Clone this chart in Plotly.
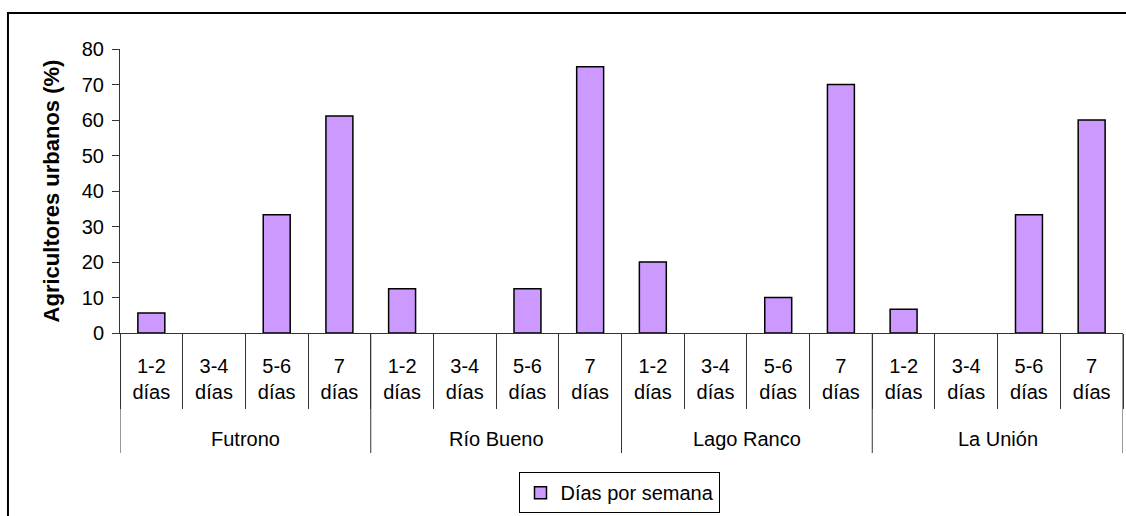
import plotly.graph_objects as go

towns = ["Futrono", "Río Bueno", "Lago Ranco", "La Unión"]
day_labels = ["1-2<br>días", "3-4<br>días", "5-6<br>días", "7<br>días"]

futrono = [5.6, 0, 33.3, 61.1]
rio_bueno = [12.5, 0, 12.5, 75.0]
lago_ranco = [20.0, 0, 10.0, 70.0]
la_union = [6.7, 0, 33.3, 60.0]

series = [futrono, rio_bueno, lago_ranco, la_union]

# flatten the two-level categories onto one numeric axis
y_vals = [v for s in series for v in s]
y_plot = [v if v else None for v in y_vals]  # empty slot instead of a flat bar
x_pos = list(range(len(y_vals)))
tick_text = day_labels * len(towns)
n_sub = len(day_labels)
bounds = [i - 0.5 for i in range(len(y_vals) + 1)]
group_bounds = [g * n_sub - 0.5 for g in range(len(towns) + 1)]
group_centers = [g * n_sub + (n_sub - 1) / 2 for g in range(len(towns))]

font = "Arial, Liberation Sans, sans-serif"
axis_col = "#333333"

fig = go.Figure()
fig.add_trace(go.Bar(
    x=x_pos, y=y_plot, width=0.43, name="Días por semana",
    marker=dict(color="#CC99FF", line=dict(color="black", width=1.5)),
))

for xc, town in zip(group_centers, towns):
    fig.add_annotation(x=xc, y=0, xref="x", yref="paper", text=town,
                       showarrow=False, yanchor="middle", yshift=-106,
                       font=dict(family=font, size=20, color="black"))

for xb in group_bounds:
    fig.add_shape(type="line", xref="x", yref="paper", x0=xb, x1=xb,
                  y0=0, y1=-120 / 284, line=dict(color=axis_col, width=1))

# outer chart frame
fig.add_shape(type="rect", xref="paper", yref="paper",
              x0=-0.1117, x1=1.05, y0=-1.0, y1=1.127,
              line=dict(color="black", width=2))

fig.update_layout(
    width=1126, height=516,
    margin=dict(l=120, r=3, t=49, b=183),
    paper_bgcolor="white", plot_bgcolor="white",
    font=dict(family=font, size=20, color="black"),
    showlegend=True,
    legend=dict(orientation="h", x=0.4985, xanchor="center",
                y=-0.49, yanchor="top", bordercolor="black", borderwidth=1,
                font=dict(size=20)),
    xaxis=dict(
        range=[-0.5, len(y_vals) - 0.5], automargin=False,
        tickmode="array", tickvals=x_pos, ticktext=tick_text,
        ticks="", ticklabelstandoff=15,
        showline=True, linecolor=axis_col, linewidth=1,
        showgrid=False, zeroline=False,
        minor=dict(tickmode="array", tickvals=bounds, ticks="outside",
                   ticklen=75, tickcolor=axis_col, tickwidth=1),
    ),
    yaxis=dict(
        range=[0, 80], dtick=10, ticks="outside", ticklen=7,
        ticklabelstandoff=4, automargin=False,
        tickcolor=axis_col, showline=True, linecolor=axis_col, linewidth=1,
        showgrid=False, zeroline=False,
        title=dict(text="<b>Agricultores urbanos (%)</b>", standoff=16,
                   font=dict(size=22)),
    ),
)

# drop the default body margin so the figure fills the window exactly
fig.write_html("out.html", config={"displayModeBar": False},
               post_script="document.body.style.margin='0';")
